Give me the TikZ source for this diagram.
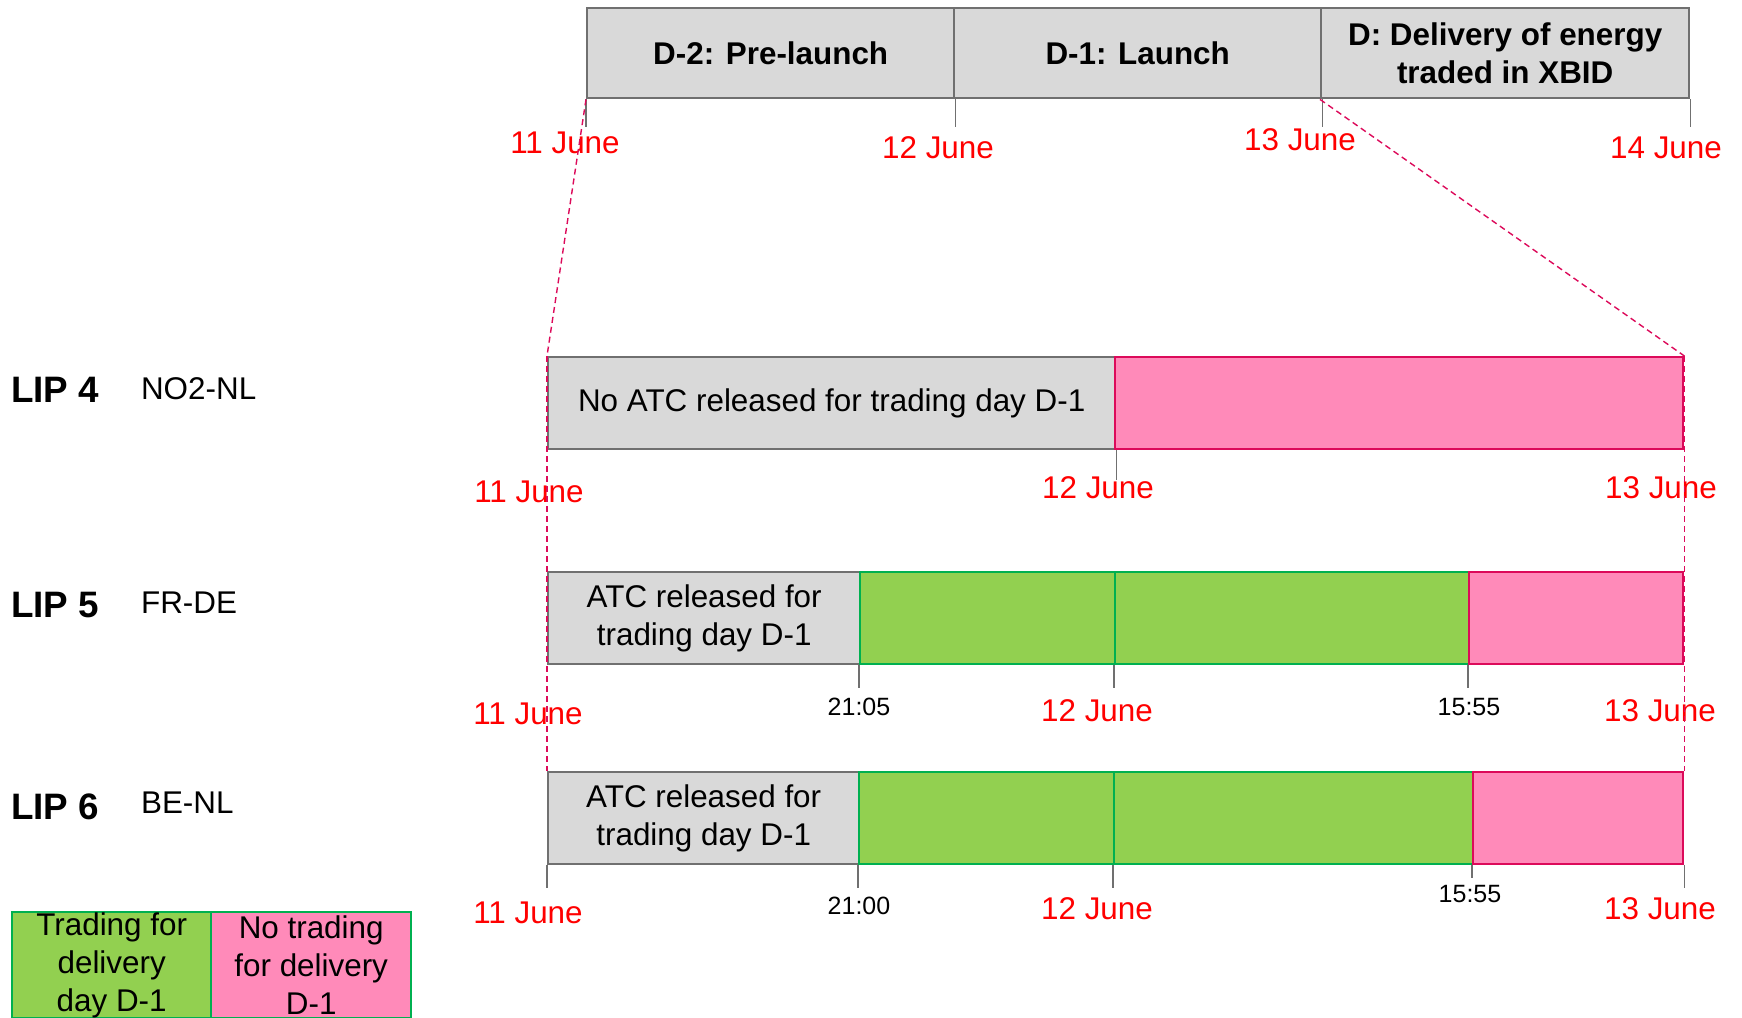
\documentclass[tikz,border=0pt]{standalone}
\usepackage{fontspec}
\setmainfont{Liberation Sans}
\usetikzlibrary{positioning}
\definecolor{bargray}{HTML}{D9D9D9}
\definecolor{edgegray}{HTML}{707070}
\definecolor{trgreen}{HTML}{92D050}
\definecolor{edgegreen}{HTML}{00B050}
\definecolor{notrpink}{HTML}{FF8AB9}
\definecolor{edgepink}{HTML}{DC0A5A}
\tikzstyle{seg} = [rectangle, anchor=north west, inner sep=0pt, line width=1.2pt, text centered, align=center, font=\fontsize{15.7}{18.9}\selectfont]
\tikzstyle{grayseg} = [seg, fill=bargray, draw=edgegray]
\tikzstyle{greenseg} = [seg, fill=trgreen, draw=edgegreen]
\tikzstyle{pinkseg} = [seg, fill=notrpink, draw=edgepink]
\tikzstyle{phase} = [grayseg, minimum height=45pt, font=\bfseries\fontsize{15.7}{18.9}\selectfont]
\tikzstyle{daylbl} = [text=red, font=\fontsize{15.7}{18.9}\selectfont]
\tikzstyle{timelbl} = [font=\fontsize{12.5}{15}\selectfont]
\tikzstyle{liplbl} = [anchor=west, font=\bfseries\fontsize{18.4}{22}\selectfont]
\tikzstyle{zonelbl} = [anchor=west, font=\fontsize{15.7}{18.9}\selectfont]
\tikzstyle{tickline} = [edgegray, line width=0.6pt]
\tikzstyle{zoomline} = [edgepink, dash pattern=on 3pt off 2pt, line width=0.7pt]

\begin{document}
\begin{tikzpicture}[x=0.5pt, y=-0.5pt]
			\useasboundingbox (0,0) rectangle (1742,1018);
			%phases on top
			\node (d2) [phase, minimum width=183.5pt] at (586,7) {D-2: Pre-launch};
			\node (d1) [phase, minimum width=183.5pt] at (953,7) {D-1: Launch};
			\node (d0) [phase, minimum width=184pt] at (1320,7) {D: Delivery of energy\\traded in XBID};
			\foreach \c in {d2.south west, d2.south east, d1.south east, d0.south east}
				\draw [tickline] (\c) -- ++(0,28);
			\node (t11) [daylbl] at (565,143) {11 June};
			\node (t12) [daylbl] at (938,148) {12 June};
			\node (t13) [daylbl] at (1300,140) {13 June};
			\node (t14) [daylbl] at (1666,148) {14 June};
			
			%LIP 4
			\node (lip4) [liplbl] at (4,390) {LIP 4};
			\node (b4) [zonelbl] at (134,389) {NO2-NL};
			\node (g4) [grayseg, minimum width=283.5pt, minimum height=46pt] at (547,356) {No ATC released for trading day D-1};
			\node (p4) [pinkseg, minimum width=284pt, minimum height=46pt] at (1114,356) {};
			\draw [tickline] (g4.south east) -- ++(0,30);
			\node (a11) [daylbl] at (529,492) {11 June};
			\node (a12) [daylbl] at (1098,488) {12 June};
			\node (a13) [daylbl] at (1661,488) {13 June};
			
			%LIP 5
			\node (lip5) [liplbl] at (4,605) {LIP 5};
			\node (b5) [zonelbl] at (134,603) {FR-DE};
			\node (g5) [grayseg, minimum width=156pt, minimum height=46pt] at (547,571) {ATC released for\\trading day D-1};
			\node (ga5) [greenseg, minimum width=127.5pt, minimum height=46pt] at (859,571) {};
			\node (gb5) [greenseg, minimum width=177pt, minimum height=46pt] at (1114,571) {};
			\node (p5) [pinkseg, minimum width=107pt, minimum height=46pt] at (1468,571) {};
			\foreach \c in {ga5.south west, gb5.south west, p5.south west}
				\draw [tickline] (\c) -- ++(0,23);
			\node (b11) [daylbl] at (528,714) {11 June};
			\node (b2105) [timelbl] at (859,707) {21:05};
			\node (b12) [daylbl] at (1097,711) {12 June};
			\node (b1555) [timelbl] at (1469,707) {15:55};
			\node (b13) [daylbl] at (1660,711) {13 June};
			
			%LIP 6
			\node (lip6) [liplbl] at (4,807) {LIP 6};
			\node (b6) [zonelbl] at (134,803) {BE-NL};
			\node (g6) [grayseg, minimum width=155.5pt, minimum height=46pt] at (547,771) {ATC released for\\trading day D-1};
			\node (ga6) [greenseg, minimum width=127.5pt, minimum height=46pt] at (858,771) {};
			\node (gb6) [greenseg, minimum width=179.5pt, minimum height=46pt] at (1113,771) {};
			\node (p6) [pinkseg, minimum width=105pt, minimum height=46pt] at (1472,771) {};
			\foreach \c in {g6.south west, ga6.south west, gb6.south west, p6.south east}
				\draw [tickline] (\c) -- ++(0,23);
			\draw [tickline] (p6.south west) -- ++(0,13);
			\node (c11) [daylbl] at (528,913) {11 June};
			\node (c2100) [timelbl] at (859,906) {21:00};
			\node (c12) [daylbl] at (1097,909) {12 June};
			\node (c1555) [timelbl] at (1470,894) {15:55};
			\node (c13) [daylbl] at (1660,909) {13 June};
			
			%zoom lines
			\draw [zoomline] (d2.south west) -- (g4.north west);
			\draw [zoomline] (d0.south west) -- (p4.north east);
			\draw [zoomline] (g4.north west) -- (g6.north west);
			\draw [zoomline] (p4.north east) -- (p6.north east);
			
			%legend
			\node (legtr) [greenseg, minimum width=99.5pt, minimum height=53pt] at (11,911) {Trading for\\delivery\\day D-1};
			\node (legno) [pinkseg, draw=edgegreen, minimum width=100pt, minimum height=53pt] at (210,911) {No trading\\for delivery\\D-1};
		\end{tikzpicture}
\end{document}
